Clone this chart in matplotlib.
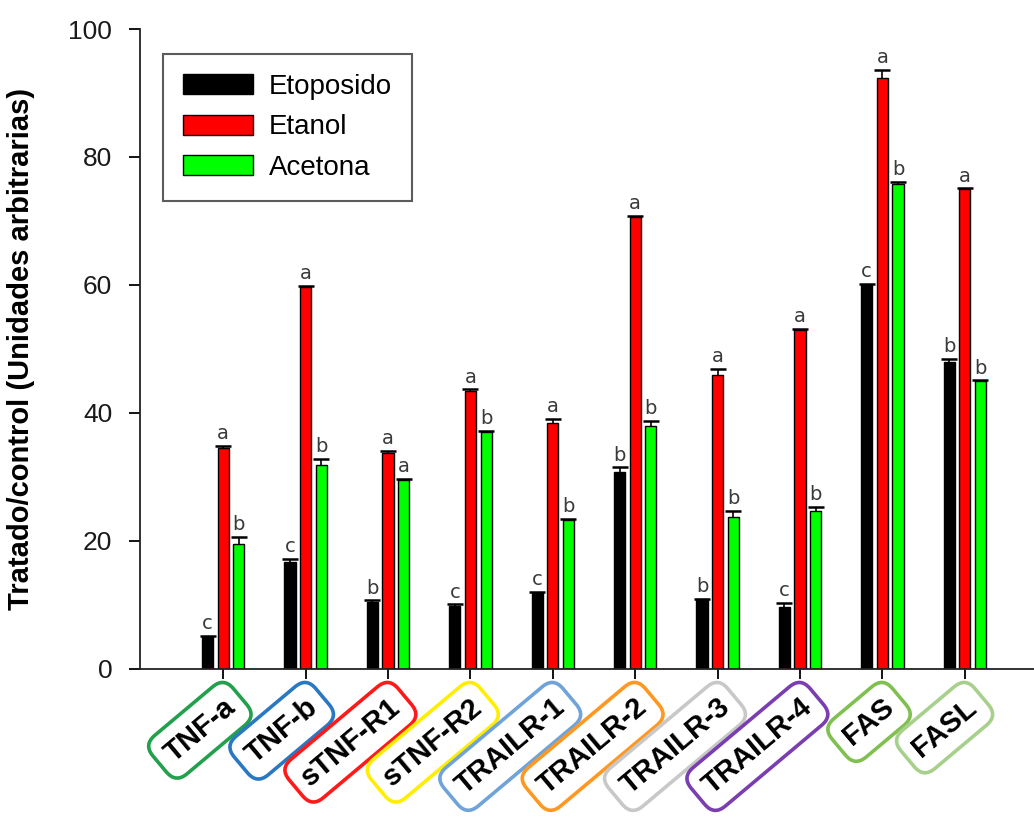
import matplotlib.pyplot as plt
import numpy as np

plt.rcParams['font.family'] = ['Liberation Sans', 'DejaVu Sans']

genes = ['TNF-a', 'TNF-b', 'sTNF-R1', 'sTNF-R2', 'TRAILR-1',
         'TRAILR-2', 'TRAILR-3', 'TRAILR-4', 'FAS', 'FASL']
box_colors = ['#22a04c', '#2a78c2', '#ff1a1a', '#ffee00', '#70a4d8',
              '#ff9820', '#c8c8c8', '#7a3eb0', '#80c050', '#a8d08d']

etoposido = [5.0, 16.7, 10.5, 9.9, 11.8, 30.8, 10.9, 9.7, 60.0, 47.9]
etoposido_err = [0.2, 0.5, 0.2, 0.2, 0.2, 0.7, 0.1, 0.6, 0.2, 0.6]
etanol = [34.5, 59.7, 33.8, 43.4, 38.5, 70.6, 45.9, 52.9, 92.3, 75.0]
etanol_err = [0.3, 0.2, 0.3, 0.3, 0.6, 0.2, 1.0, 0.3, 1.3, 0.1]
acetona = [19.6, 31.9, 29.6, 37.0, 23.3, 37.9, 23.7, 24.7, 75.8, 45.0]
acetona_err = [1.0, 0.9, 0.1, 0.2, 0.1, 0.9, 1.0, 0.6, 0.3, 0.1]

etoposido_let = ['c', 'c', 'b', 'c', 'c', 'b', 'b', 'c', 'c', 'b']
etanol_let = ['a', 'a', 'a', 'a', 'a', 'a', 'a', 'a', 'a', 'a']
acetona_let = ['b', 'b', 'a', 'b', 'b', 'b', 'b', 'b', 'b', 'b']

series = [
    ('Etoposido', etoposido, etoposido_err, etoposido_let, '#000000'),
    ('Etanol', etanol, etanol_err, etanol_let, '#ff0000'),
    ('Acetona', acetona, acetona_err, acetona_let, '#00ff00'),
]

fig = plt.figure(figsize=(10.34, 8.17), dpi=100)
ax = fig.add_axes([0.1354, 0.1812, 0.8646, 0.7833])

x = np.arange(len(genes))
width = 0.135
offsets = [-0.19, 0.0, 0.19]

for (name, vals, err, letters, color), off in zip(series, offsets):
    xs = x + off
    ax.bar(xs, vals, width, color=color, edgecolor='black', linewidth=1.0,
           label=name, zorder=2)
    eb = ax.errorbar(xs, vals, yerr=[np.zeros(len(vals)), err], fmt='none',
                     ecolor='black', elinewidth=1.2, capsize=5.5, capthick=1.8,
                     zorder=3)
    eb[1][0].set_visible(False)  # only the upper cap
    for xi, v, e, let in zip(xs, vals, err, letters):
        ax.annotate(let, (xi, v + e), xytext=(0, 2), textcoords='offset points',
                    ha='center', va='bottom', fontsize=14, color='#3a3a3a',
                    family='DejaVu Sans')

ax.set_xlim(-1.01, 9.84)
ax.set_ylim(0, 100)
ax.set_yticks(np.arange(0, 101, 20))
ax.tick_params(axis='y', labelsize=19, length=8, width=1.3, pad=12,
               labelcolor='#1a1a1a')
ax.tick_params(axis='x', length=7, width=1.3, labelbottom=False)
ax.set_xticks(x)

for sp in ['top', 'right']:
    ax.spines[sp].set_visible(False)
for sp in ['left', 'bottom']:
    ax.spines[sp].set_linewidth(1.3)
    ax.spines[sp].set_color('#222222')

# boxed, rotated category labels
for xi, g, c in zip(x, genes, box_colors):
    ax.annotate(g, (xi, 0), xycoords=('data', 'axes fraction'),
                xytext=(6, -25), textcoords='offset points',
                ha='right', va='center', rotation=40, rotation_mode='anchor',
                fontsize=21, fontweight='bold', color='black',
                bbox=dict(boxstyle='round,pad=0.38,rounding_size=0.5',
                          facecolor='white', edgecolor=c, linewidth=2.6))

ax.set_ylabel('Tratado/control (Unidades arbitrarias)', fontsize=21,
              fontweight='bold')
ax.yaxis.set_label_coords(-0.118, 0.5)

leg = ax.legend(loc='upper left', bbox_to_anchor=(0.0257, 0.961),
                borderaxespad=0, fontsize=20, frameon=True, fancybox=False,
                handlelength=2.52, handleheight=0.72, handletextpad=0.58,
                labelspacing=0.52, borderpad=0.72)
leg.get_frame().set_edgecolor('#333333')
leg.get_frame().set_linewidth(1.5)

fig.savefig('out.png', dpi=100)
plt.close(fig)
